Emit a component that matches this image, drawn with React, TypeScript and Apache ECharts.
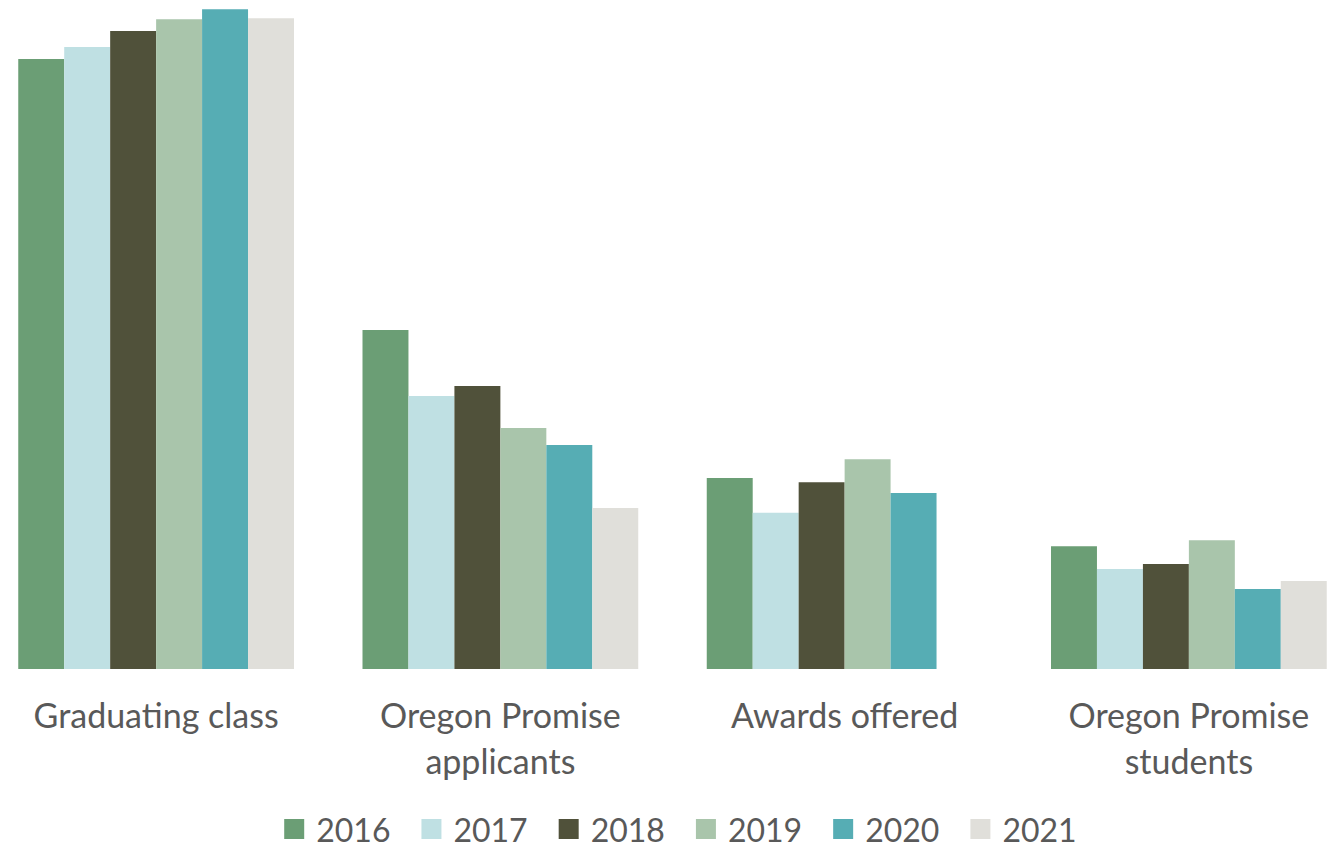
import React, { useEffect, useRef } from "react";
import * as echarts from "echarts";

const categories = [
  "Graduating class",
  "Oregon Promise\napplicants",
  "Awards offered",
  "Oregon Promise\nstudents",
];
const years = ["2016", "2017", "2018", "2019", "2020", "2021"];
const v2016 = [36600, 20340, 11460, 7360];
const v2017 = [37320, 16380, 9380, 6000];
const v2018 = [38280, 16980, 11200, 6300];
const v2019 = [38980, 14460, 12580, 7720];
const v2020 = [39580, 13440, 10560, 4800];
const v2021 = [39040, 9660, null, 5280];
const seriesValues = [v2016, v2017, v2018, v2019, v2020, v2021];
const colors = ["#6B9E75", "#BFE0E3", "#50513A", "#A9C5AB", "#56ADB4", "#E0DFDA"];

const OFFSET = 16.2;

export default function App() {
  const ref = useRef<HTMLDivElement>(null);
  useEffect(() => {
    document.body.style.margin = "0";
    const chart = echarts.init(ref.current!, null, { renderer: "svg" });
    chart.setOption({
      animation: false,
      backgroundColor: "#ffffff",
      grid: { left: 0, right: 0, top: 9, bottom: 179, containLabel: false },
      legend: {
        data: years,
        left: 279 + OFFSET,
        top: 808,
        padding: [5, 5, 0, 5],
        itemWidth: 20,
        itemHeight: 20,
        itemGap: 31,
        icon: "rect",
        textStyle: {
          fontFamily: "Lato",
          fontSize: 32,
          lineHeight: 30,
          color: "#595959",
          padding: [0, 0, 0, 7],
        },
      },
      xAxis: {
        type: "category",
        data: categories,
        axisLine: { show: false },
        axisTick: { show: false },
        axisLabel: {
          interval: 0,
          margin: 22,
          fontFamily: "Lato",
          fontSize: 34,
          lineHeight: 46,
          color: "#595959",
        },
      },
      yAxis: {
        type: "value",
        min: 0,
        max: 39600,
        show: false,
        splitLine: { show: false },
      },
      series: years.map((y, i) => ({
        name: y,
        type: "bar",
        data: seriesValues[i],
        barGap: "0%",
        barCategoryGap: "19.9%",
        itemStyle: { color: colors[i] },
      })),
    });
    return () => chart.dispose();
  }, []);
  return (
    <div style={{ width: 1340, height: 848, overflow: "hidden", position: "relative", background: "#fff" }}>
      <div
        ref={ref}
        style={{ position: "absolute", left: -OFFSET, top: 0, width: 1377.4, height: 848 }}
      />
    </div>
  );
}
